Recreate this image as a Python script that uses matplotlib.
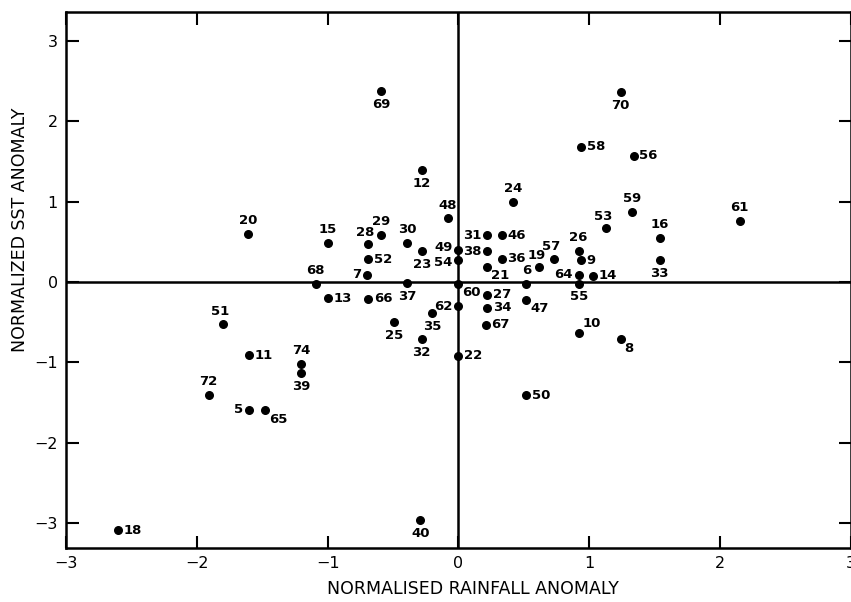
import matplotlib.pyplot as plt

# year labels and normalised anomalies
years = ['69', '12', '48', '20', '15', '28', '29', '30', '23', '49',
         '31', '46', '38', '54', '52', '7', '68', '37', '60', '21',
         '36', '19', '6', '57', '26', '9', '64', '55', '14', '33',
         '16', '53', '59', '61', '56', '58', '70', '24', '13', '66',
         '62', '27', '34', '47', '35', '25', '67', '10', '8', '32',
         '22', '50', '40', '51', '11', '72', '5', '65', '74', '39', '18']
rain = [-0.59, -0.28, -0.08, -1.61, -1.00, -0.69, -0.59, -0.39, -0.28, 0.0,
        0.22, 0.33, 0.22, 0.0, -0.69, -0.70, -1.09, -0.39, 0.0, 0.22,
        0.33, 0.62, 0.52, 0.73, 0.92, 0.94, 0.92, 0.92, 1.03, 1.54,
        1.54, 1.13, 1.33, 2.15, 1.34, 0.94, 1.24, 0.42, -1.00, -0.69,
        0.0, 0.22, 0.22, 0.52, -0.20, -0.49, 0.21, 0.92, 1.24, -0.28,
        0.0, 0.52, -0.29, -1.80, -1.60, -1.91, -1.60, -1.48, -1.20, -1.20, -2.60]
sst = [2.38, 1.39, 0.79, 0.60, 0.48, 0.47, 0.58, 0.48, 0.39, 0.40,
       0.58, 0.58, 0.38, 0.27, 0.28, 0.09, -0.02, -0.01, -0.02, 0.19,
       0.29, 0.18, -0.02, 0.29, 0.39, 0.27, 0.09, -0.02, 0.08, 0.27,
       0.55, 0.67, 0.87, 0.76, 1.57, 1.68, 2.37, 0.99, -0.20, -0.21,
       -0.30, -0.16, -0.32, -0.22, -0.39, -0.50, -0.53, -0.63, -0.71, -0.71,
       -0.92, -1.41, -2.96, -0.52, -0.91, -1.41, -1.59, -1.60, -1.02, -1.13, -3.09]

# where each number sits relative to its dot
place = {'69': 'b', '12': 'b', '48': 'a', '20': 'a', '15': 'a', '28': 'al',
         '29': 'a', '30': 'a', '23': 'b', '49': 'lu', '31': 'l', '46': 'r',
         '38': 'l', '54': 'ld', '52': 'r', '7': 'l', '68': 'a', '37': 'b',
         '60': 'br', '21': 'br', '36': 'r', '19': 'al', '6': 'a', '57': 'al',
         '26': 'a', '9': 'r', '64': 'l', '55': 'b', '14': 'r', '33': 'b',
         '16': 'a', '53': 'al', '59': 'a', '61': 'a', '56': 'r', '58': 'r',
         '70': 'b', '24': 'a', '13': 'r', '66': 'r', '62': 'l', '27': 'r',
         '34': 'r', '47': 'br', '35': 'b', '25': 'b', '67': 'r', '10': 'ar',
         '8': 'br', '32': 'b', '22': 'r', '50': 'r', '40': 'b', '51': 'al',
         '11': 'r', '72': 'a', '5': 'l', '65': 'br', '74': 'a', '39': 'b',
         '18': 'r'}
offs = {'a': ((0, 5), 'center', 'bottom'), 'b': ((0, -5), 'center', 'top'),
        'r': ((4, 0), 'left', 'center'), 'l': ((-4, 0), 'right', 'center'),
        'lu': ((-4, 1.5), 'right', 'center'), 'ld': ((-4, -1.5), 'right', 'center'),
        'al': ((-2, 4), 'center', 'bottom'), 'ar': ((3, 2), 'left', 'bottom'),
        'br': ((3, -2), 'left', 'top')}

fig = plt.figure(figsize=(8.51, 6.02), dpi=100)
ax = fig.add_axes([0.0776, 0.090, 0.922, 0.890])

ax.axhline(0, color='black', lw=1.8, zorder=1)
ax.axvline(0, color='black', lw=1.8, zorder=1)
ax.scatter(rain, sst, s=30, color='black', zorder=3)

for yr, x, y in zip(years, rain, sst):
    (dx, dy), ha, va = offs[place[yr]]
    ax.annotate(yr, (x, y), xytext=(dx, dy), textcoords='offset points',
                ha=ha, va=va, fontsize=9.5, fontweight='bold')

ax.set_xlim(-3, 3)
ax.set_ylim(-3.31, 3.36)
ax.set_xticks([-3, -2, -1, 0, 1, 2, 3])
ax.set_yticks([-3, -2, -1, 0, 1, 2, 3])
ax.set_xticklabels(['\u22123', '\u22122', '\u22121', '0', '1', '2', '3'])
ax.set_yticklabels(['\u22123', '\u22122', '\u22121', '0', '1', '2', '3'])
ax.tick_params(direction='in', length=9, width=1.5, top=True, right=True,
               labelsize=11.5, pad=6)
for sp in ax.spines.values():
    sp.set_linewidth(1.8)

fig.text(0.556, 0.022, 'NORMALISED RAINFALL ANOMALY', ha='center', va='center',
         fontsize=12.5)
fig.text(0.024, 0.618, 'NORMALIZED SST ANOMALY', ha='center', va='center',
         rotation=90, fontsize=12.5)

fig.savefig('out.png', dpi=100)
